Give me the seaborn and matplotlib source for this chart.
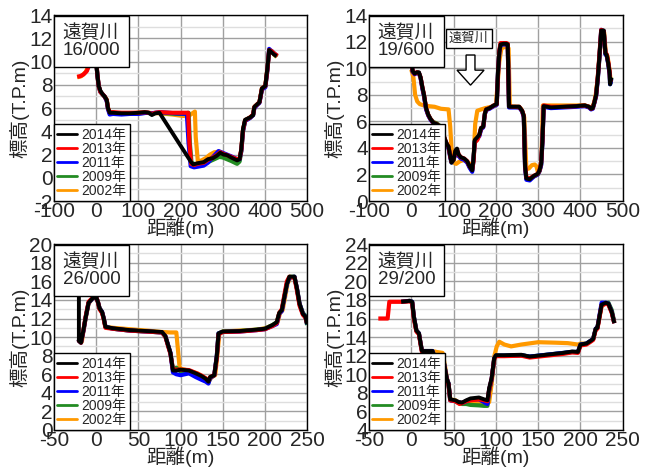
import matplotlib
matplotlib.use('Agg')
import matplotlib.pyplot as plt
import seaborn as sns
from matplotlib.lines import Line2D
from matplotlib.ticker import MultipleLocator

# 年ごとの色と凡例
years = ['2014年', '2013年', '2011年', '2009年', '2002年']
colors = ['#000000', '#ff0000', '#0000ff', '#228b22', '#ff9900']

# ---- 16/000 ----
p1_x2014 = [-5, 0, 3, 6, 10, 15, 20, 25, 28, 32, 40, 60, 80, 100, 115, 125, 132, 140, 150, 225, 230, 240, 255, 265, 277, 286, 294, 302, 310, 320, 334, 340, 344, 348, 353, 365, 372, 375, 381, 387, 393, 401, 406, 410, 416, 422, 428]
p1_y2014 = [10.6, 10.0, 8.8, 7.9, 7.5, 7.2, 7.0, 6.7, 6.0, 5.6, 5.6, 5.55, 5.55, 5.6, 5.65, 5.6, 5.4, 5.55, 5.6, 1.35, 1.15, 1.25, 1.35, 1.6, 1.7, 1.9, 2.15, 2.0, 1.95, 1.75, 1.5, 1.6, 2.5, 4.2, 5.0, 5.2, 5.4, 6.1, 6.3, 6.5, 7.7, 7.9, 9.5, 11.0, 10.8, 10.6, 10.5]
p1_x2013 = [-45, -38, -30, -22, -15, -8, 0, 3, 6, 10, 15, 20, 25, 28, 32, 40, 60, 80, 100, 115, 125, 132, 140, 150, 180, 218, 221, 225, 232, 240, 255, 265, 277, 286, 294, 302, 310, 320, 334, 340, 344, 348, 353, 365, 372, 375, 381, 387, 393, 401, 406, 410, 416, 422, 430]
p1_y2013 = [8.7, 8.75, 8.9, 9.2, 9.9, 10.5, 10.1, 8.8, 7.9, 7.4, 7.2, 7.0, 6.7, 6.0, 5.65, 5.65, 5.6, 5.6, 5.6, 5.65, 5.6, 5.5, 5.6, 5.65, 5.6, 5.6, 3.0, 1.2, 1.1, 1.2, 1.3, 1.55, 1.75, 1.95, 2.2, 2.05, 1.95, 1.8, 1.6, 1.65, 2.4, 4.1, 4.95, 5.2, 5.45, 6.1, 6.3, 6.5, 7.7, 7.9, 9.4, 11.0, 10.9, 10.7, 10.5]
p1_x2011 = [-20, -10, 0, 3, 6, 10, 15, 20, 25, 28, 32, 40, 60, 80, 100, 120, 130, 150, 170, 190, 215, 219, 224, 232, 240, 255, 265, 277, 290, 300, 310, 320, 334, 340, 344, 348, 353, 365, 372, 375, 381, 387, 393, 401, 406, 410, 416, 422, 428]
p1_y2011 = [9.4, 10.3, 10.0, 8.8, 7.9, 7.4, 7.2, 7.0, 6.6, 5.9, 5.45, 5.5, 5.45, 5.5, 5.5, 5.6, 5.55, 5.65, 5.6, 5.55, 5.5, 3.0, 1.0, 0.9, 0.95, 1.05, 1.3, 1.8, 2.3, 2.15, 2.0, 1.85, 1.6, 1.6, 2.3, 4.0, 4.9, 5.15, 5.4, 6.0, 6.25, 6.45, 7.6, 7.8, 9.3, 11.1, 10.9, 10.7, 10.5]
p1_x2009 = [-15, -8, 0, 3, 6, 10, 15, 20, 25, 28, 32, 40, 60, 80, 100, 120, 130, 150, 170, 190, 205, 219, 222, 226, 235, 250, 265, 280, 292, 300, 310, 320, 334, 340, 344, 348, 353, 365, 372, 375, 381, 387, 393, 401, 406, 410, 416, 422, 428]
p1_y2009 = [9.8, 10.4, 10.0, 8.8, 7.9, 7.4, 7.2, 7.0, 6.7, 6.0, 5.55, 5.55, 5.5, 5.55, 5.55, 5.6, 5.55, 5.6, 5.55, 5.5, 5.5, 5.6, 3.0, 1.3, 1.15, 1.2, 1.35, 1.6, 1.8, 1.75, 1.6, 1.45, 1.2, 1.4, 2.3, 4.0, 4.9, 5.2, 5.4, 6.1, 6.3, 6.5, 7.7, 7.9, 9.4, 10.9, 10.9, 10.7, 10.4]
p1_x2002 = [-45, -35, -25, -15, -8, 0, 3, 6, 10, 15, 20, 25, 28, 32, 40, 60, 80, 100, 120, 150, 180, 200, 215, 222, 230, 234, 236, 241, 250, 260, 270, 280, 292, 300, 310, 320, 334, 340, 344, 348, 353, 365, 372, 375, 381, 387, 393, 401, 406, 410, 416, 422, 428]
p1_y2002 = [8.65, 8.75, 9.1, 9.9, 10.4, 10.0, 8.8, 7.9, 7.4, 7.2, 7.0, 6.7, 6.0, 5.6, 5.6, 5.55, 5.55, 5.6, 5.6, 5.55, 5.45, 5.35, 5.3, 5.4, 5.6, 5.7, 3.5, 1.4, 1.5, 1.7, 2.0, 2.2, 2.25, 2.1, 1.9, 1.75, 1.55, 1.6, 2.4, 4.1, 4.95, 5.2, 5.4, 6.1, 6.3, 6.5, 7.7, 7.9, 9.4, 10.9, 10.9, 10.6, 10.4]

# ---- 19/600 ----
p2_x = [0, 3, 8, 13, 18, 22, 26, 30, 35, 40, 45, 52, 60, 68, 74, 79, 84, 88, 92, 95, 100, 104, 108, 112, 117, 125, 132, 138, 144, 147, 150, 156, 161, 165, 170, 174, 177, 185, 195, 202, 205, 208, 211, 218, 225, 228, 231, 240, 255, 262, 266, 269, 272, 280, 290, 299, 303, 307, 310, 313, 330, 360, 390, 410, 420, 425, 429, 433, 437, 441, 445, 449, 455, 459, 462, 466, 469, 470, 473]
p2_y2014 = [10.8, 9.8, 9.6, 9.7, 9.7, 9.3, 8.6, 8.0, 7.0, 6.5, 6.2, 5.9, 5.8, 5.6, 5.2, 4.7, 4.3, 4.1, 3.4, 2.9, 3.1, 3.8, 3.95, 3.5, 3.3, 3.2, 3.0, 2.6, 2.3, 3.2, 4.6, 4.8, 5.0, 5.5, 5.6, 6.6, 6.9, 7.0, 7.2, 7.3, 9.8, 11.2, 11.8, 11.85, 11.85, 11.8, 7.1, 7.1, 7.1, 6.8, 6.4, 2.6, 1.7, 1.63, 1.9, 2.05, 2.3, 2.8, 4.5, 7.15, 7.05, 7.1, 7.15, 7.2, 7.1, 6.95, 7.0, 7.45, 8.0, 9.3, 11.0, 12.85, 12.85, 11.1, 11.0, 10.3, 9.6, 8.8, 9.3]
p2_y2013 = [10.7, 9.8, 9.6, 9.7, 9.65, 9.3, 8.6, 8.0, 7.0, 6.5, 6.2, 5.9, 5.8, 5.6, 5.2, 4.7, 4.3, 4.1, 3.4, 2.95, 3.1, 3.7, 3.9, 3.5, 3.3, 3.2, 3.0, 2.6, 2.35, 3.0, 4.4, 4.6, 5.0, 5.5, 5.6, 6.6, 6.9, 7.0, 7.2, 7.3, 9.6, 11.3, 11.9, 11.9, 11.9, 11.85, 7.15, 7.1, 7.1, 6.8, 6.4, 2.7, 1.75, 1.7, 1.9, 2.05, 2.3, 2.9, 4.6, 7.2, 7.1, 7.1, 7.15, 7.2, 7.1, 6.95, 7.0, 7.45, 8.0, 9.4, 11.1, 12.9, 12.8, 11.2, 11.05, 10.4, 9.7, 9.0, 9.2]
p2_y2011 = [10.7, 9.75, 9.55, 9.65, 9.65, 9.25, 8.5, 7.9, 6.9, 6.45, 6.15, 5.85, 5.75, 5.55, 5.15, 4.6, 4.2, 4.0, 3.3, 2.9, 3.2, 3.5, 3.5, 3.4, 3.2, 3.1, 2.9, 2.5, 2.2, 3.1, 4.5, 4.7, 4.9, 5.4, 5.55, 6.55, 6.85, 6.95, 7.15, 7.25, 9.7, 11.2, 11.75, 11.8, 11.8, 11.75, 7.05, 7.05, 7.05, 6.75, 6.3, 2.5, 1.6, 1.55, 1.85, 2.0, 2.25, 2.7, 4.4, 7.1, 7.0, 7.05, 7.1, 7.15, 7.05, 6.9, 6.95, 7.4, 7.9, 9.2, 10.9, 12.9, 12.8, 11.05, 10.95, 10.25, 9.5, 8.8, 9.2]
p2_y2009 = [10.7, 9.75, 9.6, 9.65, 9.65, 9.3, 8.55, 7.95, 6.95, 6.5, 6.2, 5.95, 5.85, 5.65, 5.2, 4.65, 4.25, 4.05, 3.35, 2.9, 3.1, 3.6, 3.7, 3.4, 3.25, 3.15, 2.95, 2.55, 2.3, 3.1, 4.5, 4.75, 5.0, 5.5, 5.6, 6.6, 6.9, 7.0, 7.2, 7.3, 9.7, 11.2, 11.8, 11.85, 11.8, 11.8, 7.1, 7.1, 7.1, 6.8, 6.4, 2.6, 1.7, 1.7, 1.85, 2.0, 2.25, 2.75, 4.5, 7.15, 7.05, 7.1, 7.15, 7.2, 7.1, 6.95, 7.0, 7.45, 8.0, 9.3, 11.0, 12.8, 12.8, 11.1, 11.0, 10.3, 9.6, 8.8, 9.3]
p2_x2002 = [0, 5, 9, 14, 20, 30, 40, 55, 70, 88, 92, 95, 99, 106, 115, 126, 135, 142, 147, 151, 156, 165, 175, 190, 200, 204, 208, 213, 220, 227, 230, 233, 245, 258, 263, 267, 272, 278, 285, 292, 296, 300, 304, 308, 311, 330, 360, 390, 410, 420, 426, 432, 436, 441, 446, 451, 456, 460, 464, 468, 471]
p2_y2002 = [9.9, 9.3, 8.0, 7.5, 7.3, 7.2, 7.15, 7.1, 6.95, 6.9, 5.6, 4.0, 2.9, 2.8, 3.0, 3.1, 2.9, 2.6, 3.0, 5.8, 6.8, 6.9, 7.0, 7.1, 7.25, 8.8, 10.5, 11.5, 11.6, 11.6, 11.5, 7.1, 7.1, 7.0, 6.7, 6.3, 2.4, 2.45, 2.7, 2.75, 2.6, 2.1, 2.3, 3.2, 7.2, 7.2, 7.2, 7.2, 7.2, 7.1, 6.95, 7.4, 8.0, 9.3, 11.3, 12.7, 12.7, 11.1, 10.9, 10.0, 9.2]

# ---- 26/000 ----
p3_x = [-20.5, -20.5, -18, -15, -12.5, -9, -4, 0, 2, 4, 7, 9, 11, 20, 40, 60, 78, 82, 85, 88, 91, 95, 100, 110, 118, 125, 130, 133, 135, 140, 143, 145, 150, 170, 190, 200, 209, 214, 217, 220, 226, 229, 235, 238, 241, 245, 248, 250]
p3_y2014 = [14.6, 9.6, 9.4, 10.8, 12.1, 13.7, 14.2, 14.3, 13.8, 13.1, 12.7, 12.0, 11.1, 10.95, 10.75, 10.65, 10.55, 10.1, 9.2, 8.3, 6.4, 6.4, 6.5, 6.4, 6.1, 5.8, 5.5, 5.2, 5.7, 5.9, 8.0, 10.4, 10.6, 10.65, 10.8, 10.9, 11.3, 11.6, 12.6, 12.9, 15.7, 16.5, 16.5, 15.2, 13.6, 12.5, 12.2, 11.4]
p3_y2013 = [9.7, 9.6, 9.4, 10.8, 12.2, 13.8, 14.25, 14.3, 13.8, 13.0, 12.6, 11.9, 11.0, 10.9, 10.7, 10.6, 10.5, 10.05, 9.1, 8.2, 6.5, 6.5, 6.5, 6.45, 6.15, 5.85, 5.55, 5.3, 5.7, 5.9, 7.8, 10.3, 10.55, 10.6, 10.75, 10.85, 11.2, 11.5, 12.6, 13.0, 16.0, 16.5, 16.4, 15.0, 13.4, 12.4, 12.1, 11.5]
p3_y2011 = [9.7, 9.6, 9.4, 10.7, 12.1, 13.7, 14.2, 14.3, 13.8, 13.1, 12.7, 12.0, 11.1, 10.9, 10.7, 10.6, 10.5, 10.1, 9.2, 8.3, 6.2, 6.0, 5.9, 6.1, 5.7, 5.4, 5.2, 5.0, 5.6, 5.9, 8.0, 10.4, 10.55, 10.6, 10.75, 10.85, 11.2, 11.4, 12.5, 12.8, 15.7, 16.4, 16.5, 15.2, 13.6, 12.5, 12.2, 11.4]
p3_y2009 = [9.7, 9.6, 9.4, 10.8, 12.1, 13.7, 14.2, 14.3, 13.8, 13.1, 12.7, 12.0, 11.1, 10.9, 10.7, 10.6, 10.5, 10.1, 9.2, 8.3, 6.5, 6.7, 6.3, 6.2, 5.9, 5.6, 5.35, 5.1, 5.6, 5.9, 8.0, 10.4, 10.6, 10.65, 10.8, 10.9, 11.3, 11.6, 12.6, 12.9, 15.7, 16.5, 16.5, 15.2, 13.6, 12.6, 12.3, 11.3]
p3_x2002 = [-19, -17, -15, -12.5, -9, -4, 0, 2, 4, 7, 9, 11, 20, 40, 60, 78, 88, 95, 99, 105, 112, 120, 127, 131, 134, 137, 141, 143, 146, 150, 170, 190, 200, 210, 215, 218, 221, 227, 230, 235, 238, 241, 245, 248, 250]
p3_y2002 = [9.7, 9.5, 10.7, 12.0, 13.6, 14.2, 14.3, 13.8, 13.1, 12.7, 12.0, 11.1, 11.0, 10.85, 10.7, 10.55, 10.5, 10.5, 6.6, 6.5, 6.3, 6.1, 5.7, 5.5, 5.3, 5.7, 5.9, 7.5, 10.4, 10.6, 10.7, 10.8, 10.95, 11.3, 11.6, 12.6, 12.9, 15.8, 16.4, 16.5, 15.2, 13.6, 12.5, 12.2, 11.4]

# ---- 29/200 ----
p4_x = [-12, -2, 1, 3, 6, 9, 11, 12.6, 25, 27, 37, 40, 42, 44, 46, 52, 56, 60, 65, 70, 80, 86, 90, 92, 95, 98, 100, 110, 130, 140, 160, 180, 190, 197, 200, 207, 212, 215, 218, 220, 225, 230, 233, 237, 240]
p4_y2014 = [17.8, 17.9, 17.8, 16.2, 14.7, 14.4, 13.3, 12.5, 12.5, 12.0, 12.0, 10.5, 9.5, 9.0, 7.3, 7.2, 7.0, 6.95, 7.2, 7.4, 7.5, 7.3, 7.2, 8.5, 9.6, 11.7, 12.05, 12.05, 12.1, 11.9, 12.1, 12.3, 12.45, 12.4, 13.2, 13.3, 13.6, 13.8, 14.9, 15.0, 17.5, 17.7, 17.6, 16.7, 15.5]
p4_y2011 = [17.8, 17.9, 17.8, 16.2, 14.7, 14.4, 13.3, 12.5, 12.5, 12.0, 12.0, 10.5, 9.5, 9.0, 7.2, 7.1, 7.0, 6.9, 7.1, 7.3, 7.3, 7.0, 6.8, 8.3, 9.5, 11.7, 12.0, 12.0, 12.05, 11.9, 12.1, 12.3, 12.4, 12.4, 13.2, 13.3, 13.6, 13.8, 14.9, 15.0, 17.7, 17.7, 17.6, 16.7, 15.5]
p4_y2009 = [17.8, 17.9, 17.8, 16.2, 14.7, 14.4, 13.3, 12.5, 12.5, 12.0, 12.0, 10.5, 9.5, 9.0, 7.2, 7.1, 6.9, 6.8, 6.8, 6.7, 6.65, 6.6, 6.6, 8.2, 9.4, 11.7, 12.0, 12.0, 12.05, 11.9, 12.1, 12.3, 12.4, 12.4, 13.2, 13.3, 13.6, 13.8, 14.9, 15.0, 17.5, 17.6, 17.7, 16.9, 15.6]
p4_x2013 = [-39, -28, -26, -20, -12, -2, 1, 3, 6, 9, 11, 12.6, 25, 27, 37, 40, 42, 44, 46, 52, 57, 60, 65, 70, 80, 86, 90, 92, 95, 98, 100, 110, 130, 140, 160, 180, 190, 197, 200, 207, 212, 215, 218, 220, 225, 230, 233, 237, 240]
p4_y2013 = [16.0, 16.0, 17.8, 17.8, 17.8, 17.85, 17.7, 16.0, 14.6, 14.3, 13.2, 12.4, 12.4, 11.9, 11.9, 10.4, 9.4, 8.9, 7.2, 7.1, 6.8, 6.9, 7.1, 7.2, 7.3, 7.2, 7.1, 8.3, 9.5, 11.6, 11.95, 11.95, 12.0, 11.8, 12.0, 12.2, 12.35, 12.3, 13.1, 13.2, 13.5, 13.7, 14.8, 14.9, 17.4, 17.6, 17.5, 16.6, 15.5]
p4_x2002 = [-12, -2, 1, 3, 6, 9, 11, 12.6, 25, 30, 37, 40, 42, 44, 46, 52, 56, 62, 70, 80, 88, 92, 95, 98, 101, 104, 110, 118, 130, 150, 170, 185, 197, 200, 207, 212, 215, 218, 220, 225, 230, 233, 237, 240]
p4_y2002 = [17.8, 17.9, 17.8, 16.2, 14.7, 14.4, 13.3, 12.5, 12.5, 12.4, 12.3, 10.8, 9.6, 9.0, 7.3, 7.2, 7.0, 6.9, 6.9, 6.9, 7.0, 7.0, 9.0, 11.9, 13.0, 13.5, 13.2, 13.0, 13.2, 13.45, 13.4, 13.35, 13.2, 13.3, 13.3, 13.6, 13.8, 14.9, 15.0, 17.4, 17.6, 17.6, 16.7, 15.5]

sns.set_style('white')
plt.rcParams['font.family'] = ['Liberation Sans', 'Noto Sans CJK JP']
plt.rcParams['axes.unicode_minus'] = False

fig = plt.figure(figsize=(6.49, 4.68), dpi=100)
ax1 = fig.add_axes([0.0832, 0.5705, 0.390, 0.397])
ax2 = fig.add_axes([0.5686, 0.5705, 0.391, 0.397])
ax3 = fig.add_axes([0.0832, 0.0812, 0.390, 0.397])
ax4 = fig.add_axes([0.5686, 0.0812, 0.391, 0.397])


def draw_panel(ax, series, xlim, xstep, ylim, name):
    # 古い年から描いて2014年を一番上に
    for x, y, c in reversed(series):
        lw = 2.8 if c == '#000000' else 3.0
        sns.lineplot(x=x, y=y, ax=ax, color=c, lw=lw, sort=False, estimator=None,
                     solid_capstyle='butt')
    ax.set_xlim(*xlim)
    ax.set_ylim(*ylim)
    ax.xaxis.set_major_locator(MultipleLocator(xstep))
    ax.yaxis.set_major_locator(MultipleLocator(2))
    ax.yaxis.set_minor_locator(MultipleLocator(1))
    ax.grid(which='major', color='#a0a0a0', lw=1.0)
    ax.grid(which='minor', axis='y', color='#dedede', lw=1.0)
    ax.set_axisbelow(True)
    ax.tick_params(which='both', length=0, labelsize=15, pad=1)
    for s in ax.spines.values():
        s.set_color('black')
        s.set_linewidth(1.0)
    ax.set_xlabel('距離(m)', fontsize=14, labelpad=-3)
    ax.set_ylabel('標高(T.P.m)', fontsize=14, labelpad=0)
    ax.annotate(name, xy=(0, 1), xycoords='axes fraction', xytext=(6.3, -6.3),
                textcoords='offset points', ha='left', va='top', fontsize=13.5,
                linespacing=1.0, zorder=10,
                bbox=dict(boxstyle='square,pad=0.45', fc='white', ec='black', lw=1.0))
    handles = [Line2D([], [], color=c, lw=2) for c in colors]
    leg = ax.legend(handles, years, loc='lower left', bbox_to_anchor=(0, 0),
                    borderaxespad=0, fontsize=10, labelspacing=0.0,
                    handlelength=1.4, handletextpad=0.3, borderpad=0.25,
                    fancybox=False, framealpha=1, edgecolor='black')
    leg.get_frame().set_linewidth(1.0)
    leg.set_zorder(10)


draw_panel(ax1, [(p1_x2014, p1_y2014, colors[0]), (p1_x2013, p1_y2013, colors[1]),
                 (p1_x2011, p1_y2011, colors[2]), (p1_x2009, p1_y2009, colors[3]),
                 (p1_x2002, p1_y2002, colors[4])],
           (-100, 500), 100, (-2, 14), '遠賀川\n16/000')
draw_panel(ax2, [(p2_x, p2_y2014, colors[0]), (p2_x, p2_y2013, colors[1]),
                 (p2_x, p2_y2011, colors[2]), (p2_x, p2_y2009, colors[3]),
                 (p2_x2002, p2_y2002, colors[4])],
           (-100, 500), 100, (0, 14), '遠賀川\n19/600')
draw_panel(ax3, [(p3_x, p3_y2014, colors[0]), (p3_x, p3_y2013, colors[1]),
                 (p3_x, p3_y2011, colors[2]), (p3_x, p3_y2009, colors[3]),
                 (p3_x2002, p3_y2002, colors[4])],
           (-50, 250), 50, (0, 20), '遠賀川\n26/000')
draw_panel(ax4, [(p4_x, p4_y2014, colors[0]), (p4_x2013, p4_y2013, colors[1]),
                 (p4_x, p4_y2011, colors[2]), (p4_x, p4_y2009, colors[3]),
                 (p4_x2002, p4_y2002, colors[4])],
           (-50, 250), 50, (4, 24), '遠賀川\n29/200')

# 流向の矢印
ax2.text(136, 12.25, '遠賀川', ha='center', va='center', fontsize=9.5, zorder=10,
         bbox=dict(boxstyle='square,pad=0.25', fc='white', ec='black', lw=1.0))
ax2.arrow(140, 11.0, 0, -2.27, width=21, head_width=64, head_length=1.13,
          length_includes_head=True, fc='white', ec='black', lw=1.0, zorder=10)

fig.savefig('out.png', dpi=100)
plt.close(fig)
